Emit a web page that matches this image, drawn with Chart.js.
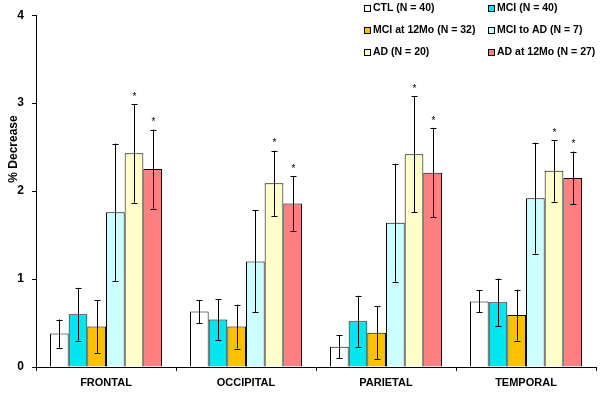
<!DOCTYPE html>
<html>
<head>
<meta charset="utf-8">
<script src="https://cdn.jsdelivr.net/npm/chart.js@4.4.1/dist/chart.umd.min.js"></script>
<style>
  html, body { margin: 0; padding: 0; background: #fff; }
  #wrap { width: 604px; height: 395px; }
</style>
</head>
<body>
<div id="wrap"><canvas id="chart"></canvas></div>
<script>
const regions = ['FRONTAL', 'OCCIPITAL', 'PARIETAL', 'TEMPORAL'];
const groupLabels = ['CTL (N = 40)', 'MCI (N = 40)', 'MCI at 12Mo (N = 32)', 'MCI to AD (N = 7)', 'AD (N = 20)', 'AD at 12Mo (N = 27)'];
const groupColors = ['#ffffff', '#00e5ee', '#ffc000', '#ccffff', '#ffffcc', '#ff8080'];
const significant = [false, false, false, false, true, true];
const yTitle = '% Decrease';

// mean % decrease per region
const ctlMean = [0.38, 0.63, 0.23, 0.745];
const mciMean = [0.60, 0.54, 0.52, 0.735];
const mci12Mean = [0.46, 0.46, 0.39, 0.59];
const mciAdMean = [1.76, 1.20, 1.64, 1.92];
const adMean = [2.43, 2.09, 2.42, 2.23];
const ad12Mean = [2.25, 1.86, 2.21, 2.15];

// error bar half-widths
const ctlErr = [0.16, 0.13, 0.13, 0.125];
const mciErr = [0.30, 0.23, 0.29, 0.27];
const mci12Err = [0.30, 0.25, 0.30, 0.29];
const mciAdErr = [0.78, 0.58, 0.67, 0.63];
const adErr = [0.56, 0.37, 0.66, 0.35];
const ad12Err = [0.45, 0.31, 0.51, 0.30];

const yTicks = [0, 1, 2, 3, 4];

const means = [ctlMean, mciMean, mci12Mean, mciAdMean, adMean, ad12Mean];
const errs = [ctlErr, mciErr, mci12Err, mciAdErr, adErr, ad12Err];

const errorBars = {
    id: 'errorBars',
    afterDatasetsDraw(chart) {
        const { ctx } = chart;
        const y = chart.scales.y;
        ctx.save();
        ctx.strokeStyle = '#000';
        ctx.lineWidth = 1;
        ctx.fillStyle = '#000';
        ctx.font = '10px Arial';
        ctx.textAlign = 'center';
        chart.data.datasets.forEach((ds, i) => {
            const meta = chart.getDatasetMeta(i);
            meta.data.forEach((bar, j) => {
                const v = ds.data[j];
                const e = ds.errors[j];
                const top = y.getPixelForValue(v + e);
                const bot = y.getPixelForValue(v - e);
                const x = Math.round(bar.x) + 0.5;
                ctx.beginPath();
                ctx.moveTo(x, top); ctx.lineTo(x, bot);
                ctx.moveTo(x - 3, Math.round(top) + 0.5); ctx.lineTo(x + 3, Math.round(top) + 0.5);
                ctx.moveTo(x - 3, Math.round(bot) + 0.5); ctx.lineTo(x + 3, Math.round(bot) + 0.5);
                ctx.stroke();
                if (ds.significant) {
                    ctx.textBaseline = 'bottom';
                    ctx.fillText('*', x, top - 2);
                }
            });
        });
        ctx.restore();
    }
};

// legend in two columns, plus the y title placed a bit above centre like the original
const boxLegend = {
    id: 'boxLegend',
    afterDraw(chart) {
        const { ctx } = chart;
        const cols = [364, 488];
        const rows = [8, 30, 52];
        ctx.save();
        ctx.font = 'bold 10.5px Arial';
        ctx.textBaseline = 'middle';
        ctx.textAlign = 'left';
        chart.data.datasets.forEach((ds, i) => {
            const bx = cols[i % 2];
            const by = rows[Math.floor(i / 2)];
            ctx.fillStyle = ds.backgroundColor;
            ctx.fillRect(bx, by - 3, 7, 7);
            ctx.strokeStyle = '#000';
            ctx.lineWidth = 1;
            ctx.strokeRect(bx + 0.5, by - 2.5, 6, 6);
            ctx.fillStyle = '#000';
            ctx.fillText(ds.label, bx + 9, by + 0.5);
        });

        ctx.translate(14, 149);
        ctx.rotate(-Math.PI / 2);
        ctx.font = 'bold 12px Arial';
        ctx.textAlign = 'center';
        ctx.textBaseline = 'middle';
        ctx.fillText(yTitle, 0, 0);
        ctx.restore();
    }
};

new Chart(document.getElementById('chart'), {
    type: 'bar',
    data: {
        labels: regions,
        datasets: groupLabels.map((label, i) => ({
            label,
            data: means[i],
            errors: errs[i],
            significant: significant[i],
            backgroundColor: groupColors[i],
            borderColor: '#000',
            borderWidth: 1,
            categoryPercentage: 0.8,
            barPercentage: 1.0
        }))
    },
    options: {
        responsive: true,
        maintainAspectRatio: false,
        animation: false,
        layout: { padding: { top: 15, right: 8, left: 0, bottom: 0 } },
        plugins: {
            legend: { display: false },
            tooltip: { enabled: false }
        },
        scales: {
            x: {
                grid: { offset: true, drawOnChartArea: false, tickLength: 4, color: '#000' },
                border: { color: '#000', width: 1 },
                ticks: { color: '#000', padding: 5, font: { family: 'Arial', weight: 'bold', size: 11 } },
                afterFit(scale) { scale.height = 28; }
            },
            y: {
                min: 0,
                max: 4,
                afterBuildTicks(scale) { scale.ticks = yTicks.map(v => ({ value: v })); },
                grid: { drawOnChartArea: false, tickLength: 4, color: '#000' },
                border: { color: '#000', width: 1 },
                ticks: { color: '#000', padding: 8, font: { family: 'Arial', weight: 'bold', size: 12 } },
                afterFit(scale) { scale.width = 36; }
            }
        }
    },
    plugins: [errorBars, boxLegend]
});
</script>
</body>
</html>
